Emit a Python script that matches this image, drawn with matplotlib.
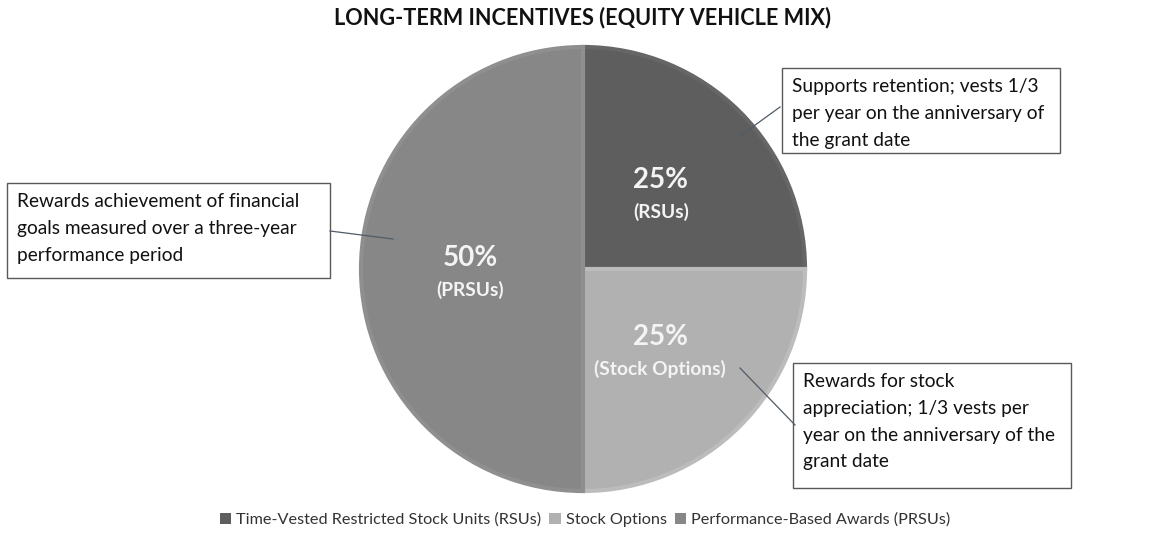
import matplotlib.pyplot as plt
from matplotlib.patches import Rectangle, Patch

plt.rcParams['font.family'] = ['Lato', 'DejaVu Sans']

# data
labels = ["Time-Vested Restricted Stock Units (RSUs)", "Stock Options", "Performance-Based Awards (PRSUs)"]
short_labels = ["(RSUs)", "(Stock Options)", "(PRSUs)"]
shares = [25, 25, 50]
colors = ["#5e5e5e", "#b1b1b1", "#878787"]
edge_colors = ["#666666", "#bcbcbc", "#8f8f8f"]
notes = [
    "Supports retention; vests 1/3\nper year on the anniversary of\nthe grant date",
    "Rewards for stock\nappreciation; 1/3 vests per\nyear on the anniversary of the\ngrant date",
    "Rewards achievement of financial\ngoals measured over a three-year\nperformance period",
]

W, H = 1161, 537
fig = plt.figure(figsize=(W / 100, H / 100), dpi=100)
ax = fig.add_axes([0, 0, 1, 1])

def py(y):
    # pixel row from top -> data y
    return H - y

cx, cy, r = 583, py(269), 222
wedges, _ = ax.pie(shares, colors=colors, startangle=90, counterclock=False,
                   center=(cx, cy), radius=r, frame=True)
for w, ec in zip(wedges, edge_colors):
    w.set_edgecolor(ec)
    w.set_linewidth(3)
ax.set_xlim(0, W)
ax.set_ylim(0, H)
ax.set_aspect("auto")
ax.axis("off")

# percentage labels inside slices
label_pos = [(661, 180), (660, 337), (470, 258)]
for (x, y), s, sl in zip(label_pos, shares, short_labels):
    ax.text(x, py(y), f"{s}%", color="#f4f4f4", fontsize=20, fontweight="bold",
            ha="center", va="center")
    ax.text(x, py(y + 32), sl, color="#f4f4f4", fontsize=13.8, fontweight="bold",
            ha="center", va="center")

# callout boxes: (left, top, right, bottom), leader line start/end
boxes = [(782, 68, 1060, 153), (793, 363, 1071, 488), (7, 183, 330, 278)]
leaders = [((780, 107), (740, 136)), ((795, 425), (740, 368)), ((330, 231), (393, 239))]
for (l, t, rr, b), (p0, p1), txt in zip(boxes, leaders, notes):
    ax.add_patch(Rectangle((l, py(b)), rr - l, b - t, facecolor="white",
                           edgecolor="#595959", linewidth=1))
    ax.text(l + 10, py(t + 10), txt, fontsize=13.8, color="#111111",
            ha="left", va="top", linespacing=1.7)
    ax.plot([p0[0], p1[0]], [py(p0[1]), py(p1[1])], color="#4f5b66", linewidth=0.9)

ax.text(583, py(18), "LONG-TERM INCENTIVES (EQUITY VEHICLE MIX)", fontsize=15.6,
        fontweight="bold", ha="center", va="center", color="#111111")

handles = [Patch(facecolor=c, edgecolor="none") for c in colors]
fig.legend(handles, labels, loc="center", bbox_to_anchor=(585 / W, 1 - 520 / H),
           ncol=3, frameon=False, fontsize=11.7, handlelength=0.7, handleheight=0.7,
           handletextpad=0.3, columnspacing=0.5, labelcolor="#333333")

fig.savefig("out.png", dpi=100)
